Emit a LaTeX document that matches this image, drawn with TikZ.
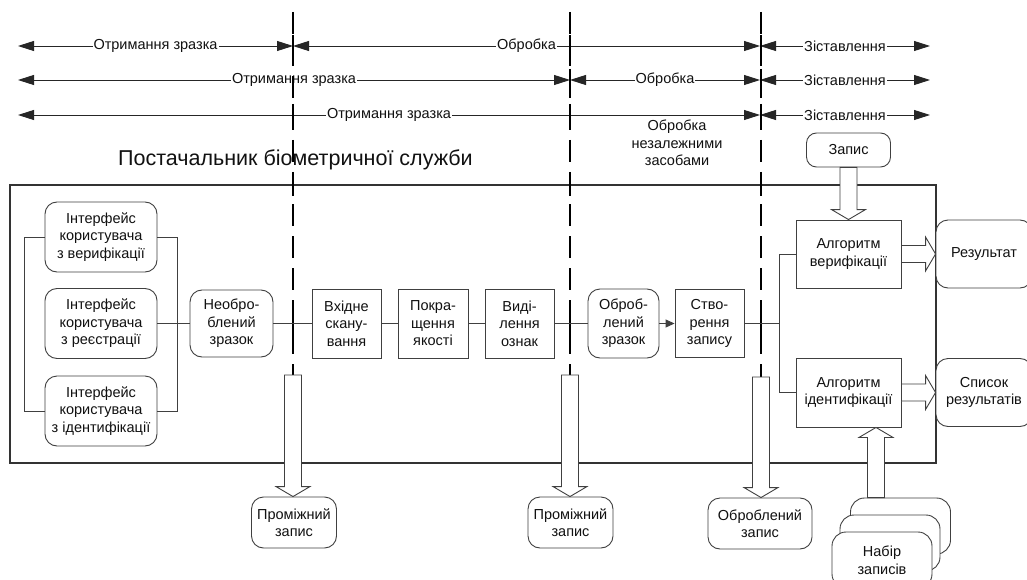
\documentclass[tikz,border=0pt]{standalone}
\usepackage{fontspec}
\setmainfont{Liberation Sans}
\usetikzlibrary{arrows.meta,calc}
\definecolor{linec}{HTML}{404040}
\definecolor{textc}{HTML}{111111}
\newcommand\fs{\fontsize{14.5}{17.5}\selectfont}
\newcommand\hollowdown[2]{\draw[harrow] let \p1=(#1), \p2=(#2) in
 (\x1-8.5pt,\y1) -- (\x1-8.5pt,\y2+10pt) -- (\x1-17pt,\y2+10pt) -- (\x1,\y2) -- (\x1+17pt,\y2+10pt) -- (\x1+8.5pt,\y2+10pt) -- (\x1+8.5pt,\y1) -- cycle;}
\newcommand\hollowup[2]{\draw[harrow] let \p1=(#1), \p2=(#2) in
 (\x1-8.5pt,\y1) -- (\x1-8.5pt,\y2-10pt) -- (\x1-17pt,\y2-10pt) -- (\x1,\y2) -- (\x1+17pt,\y2-10pt) -- (\x1+8.5pt,\y2-10pt) -- (\x1+8.5pt,\y1) -- cycle;}
\newcommand\hollowright[2]{\draw[harrow] let \p1=(#1), \p2=(#2) in
 (\x1,\y1-8.5pt) -- (\x2-10pt,\y1-8.5pt) -- (\x2-10pt,\y1-17pt) -- (\x2,\y1) -- (\x2-10pt,\y1+17pt) -- (\x2-10pt,\y1+8.5pt) -- (\x1,\y1+8.5pt) -- cycle;}
\begin{document}
\begin{tikzpicture}[x=1pt,y=-1pt,
  box/.style={draw=linec, line width=0.9pt, fill=white, inner sep=0pt, align=center, text=textc, font=\fs},
  rbox/.style={box, rounded corners=12pt},
  flow/.style={draw=linec, line width=0.9pt},
  harrow/.style={draw=linec, fill=white, line width=0.9pt},
  rowarr/.style={draw=black!85, line width=0.9pt, {Triangle[length=16pt,width=10pt]}-{Triangle[length=16pt,width=10pt]}},
  lbl/.style={fill=white, inner xsep=1pt, inner ysep=1pt, text=textc, font=\fs},
  dashline/.style={draw=black, line width=1.3pt, dash pattern=on 22pt off 10pt},
  tick/.style={draw=black, line width=1.3pt}]
\useasboundingbox (0,0) rectangle (1027,580);
\clip (0,0) rectangle (1027,580);
\fill[white] (0,0) rectangle (1027,580);

% phase rows
\coordinate (L1) at (18,46);  \coordinate (A1) at (293,46); \coordinate (B1) at (760,46); \coordinate (R1) at (930,46);
\coordinate (L2) at (18,80);  \coordinate (A2) at (570,80); \coordinate (B2) at (760,80); \coordinate (R2) at (930,80);
\coordinate (L3) at (18,115); \coordinate (B3) at (760,115); \coordinate (R3) at (930,115);
\draw[rowarr] (L1) -- node[lbl]{Отримання зразка} (A1);
\draw[rowarr] (A1) -- node[lbl]{Обробка} (B1);
\draw[rowarr] (B1) -- node[lbl]{Зіставлення} (R1);
\draw[rowarr] (L2) -- node[lbl]{Отримання зразка} (A2);
\draw[rowarr] (A2) -- node[lbl]{Обробка} (B2);
\draw[rowarr] (B2) -- node[lbl]{Зіставлення} (R2);
\draw[rowarr] (L3) -- node[lbl]{Отримання зразка} (B3);
\draw[rowarr] (B3) -- node[lbl]{Зіставлення} (R3);

\node[text=textc, font=\fs, align=center] (indep) at (677,143) {Обробка\\незалежними\\засобами};
\node[text=textc, font=\fontsize{21.5}{24}\selectfont, anchor=west, inner sep=0pt] (title) at (118,160) {Постачальник біометричної служби};

% provider boundary
\draw[draw=black!80, line width=1.3pt] (10,185) rectangle (936,463);

% dashed phase boundaries
\coordinate (d1t) at (293,12); \coordinate (d1b) at (293,375);
\coordinate (d2t) at (570,12); \coordinate (d2b) at (570,375);
\coordinate (d3t) at (761,12); \coordinate (d3b) at (761,377);
\draw[dashline] (d1t) -- (d1b);
\draw[dashline] (d2t) -- (d2b);
\draw[dashline] (d3t) -- (d3b);
\foreach \yy in {46,115,185,323.5} \draw[tick] (293,\yy-11) -- (293,\yy+11);
\foreach \yy in {46,80,115,185,323.5} \draw[tick] (570,\yy-11) -- (570,\yy+11);
\foreach \yy in {46,80,115,185,323.5} \draw[tick] (761,\yy-11) -- (761,\yy+11);

% nodes
\node[rbox, minimum width=112, minimum height=70] (ui1) at (101,237) {Інтерфейс\\користувача\\з верифікації};
\node[rbox, minimum width=112, minimum height=70] (ui2) at (101,323.5) {Інтерфейс\\користувача\\з реєстрації};
\node[rbox, minimum width=112, minimum height=70] (ui3) at (101,411) {Інтерфейс\\користувача\\з ідентифікації};
\node[rbox, minimum width=83, minimum height=67] (raw) at (231.5,323.5) {Необро-\\блений\\зразок};
\node[box, minimum width=69, minimum height=69] (scan) at (346.5,323.5) {Вхідне\\скану-\\вання};
\node[box, minimum width=70, minimum height=69] (enh) at (433,323.5) {Покра-\\щення\\якості};
\node[box, minimum width=69, minimum height=69] (feat) at (519.5,323.5) {Виді-\\лення\\ознак};
\node[rbox, minimum width=71, minimum height=69] (proc) at (623.5,323.5) {Оброб-\\лений\\зразок};
\node[box, minimum width=69, minimum height=68] (create) at (709.5,323.5) {Ство-\\рення\\запису};
\node[box, minimum width=105, minimum height=68] (ver) at (848.5,254) {Алгоритм\\верифікації};
\node[box, minimum width=105, minimum height=69] (ident) at (848.5,392.5) {Алгоритм\\ідентифікації};
\node[rbox, minimum width=96, minimum height=68] (res) at (984,254) {Результат};
\node[rbox, minimum width=96, minimum height=68] (list) at (984,392.5) {Список\\результатів};
\node[rbox, minimum width=84, minimum height=34, rounded corners=10pt] (rec) at (848.5,150) {Запис};
\node[rbox, minimum width=85, minimum height=51] (int1) at (294,522.5) {Проміжний\\запис};
\node[rbox, minimum width=85, minimum height=51] (int2) at (570.5,522.5) {Проміжний\\запис};
\node[rbox, minimum width=104, minimum height=51] (procrec) at (760,523.5) {Оброблений\\запис};
\node[rbox, minimum width=100, minimum height=56, rounded corners=14pt] (set3) at (900.5,526) {};
\node[rbox, minimum width=100, minimum height=56, rounded corners=14pt] (set2) at (890,543) {};
\node[rbox, minimum width=100, minimum height=56, rounded corners=14pt] (set1) at (882,560) {Набір\\записів};

% connectors
\coordinate (bL) at (24,0); \coordinate (bR) at (177,0); \coordinate (jx) at (779,323.5);
\draw[flow] (ui1.west) -| (bL |- ui3.west) -- (ui3.west);
\draw[flow] (ui1.east) -| (bR |- ui3.east) -- (ui3.east);
\draw[flow] (ui2.east) -- (raw.west);
\draw[flow] (raw.east) -- (scan.west);
\draw[flow] (scan.east) -- (enh.west);
\draw[flow] (enh.east) -- (feat.west);
\draw[flow] (feat.east) -- (proc.west);
\draw[flow, -{Triangle[length=9pt,width=8pt]}] (proc.east) -- (create.west);
\draw[flow] (create.east) -- (jx);
\draw[flow] (ver.west) -| (jx |- ident.west) -- (ident.west);

% hollow arrows
\hollowdown{d1b}{int1.north}
\hollowdown{d2b}{int2.north}
\hollowdown{d3b}{procrec.north}
\hollowdown{rec.south}{ver.north}
\coordinate (nab) at ($(ident.south)+(27.5,0)$);
\hollowup{nab |- set3.north}{nab}
\hollowright{ver.east}{res.west}
\hollowright{ident.east}{list.west}
\end{tikzpicture}
\end{document}
